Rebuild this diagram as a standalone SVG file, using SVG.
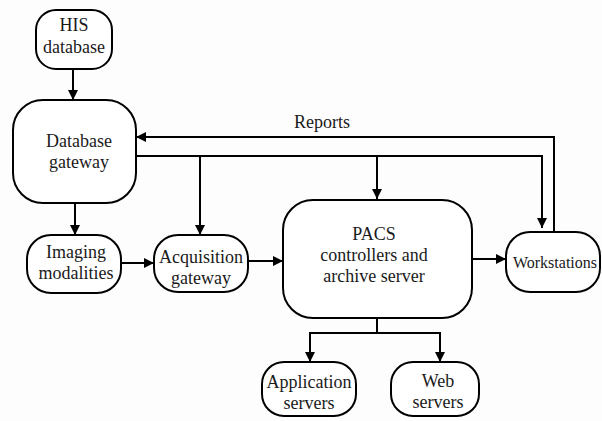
<svg xmlns="http://www.w3.org/2000/svg" width="602" height="421" viewBox="0 0 602 421">
<defs>
<marker id="ah" viewBox="0 0 10 10" refX="10" refY="5" markerWidth="10" markerHeight="10" markerUnits="userSpaceOnUse" orient="auto">
<path d="M0,0 L10,5 L0,10 z" fill="#000"/>
</marker>
<style>
.box{fill:#fff;stroke:#000;stroke-width:2}
text{font-family:'Liberation Serif','DejaVu Serif',serif;font-size:18px;fill:#1a1a1a;text-anchor:middle}
.c{fill:none;stroke:#000;stroke-width:2}
</style>
</defs>
<rect width="602" height="421" fill="#fdfdfd"/>
<g id="connectors">
<path class="c" d="M73,69 V100" marker-end="url(#ah)"/>
<path class="c" d="M554,232 V137 H136" marker-end="url(#ah)"/>
<path class="c" d="M136,156 H542 V228" marker-end="url(#ah)"/>
<path class="c" d="M200,156 V235" marker-end="url(#ah)"/>
<path class="c" d="M377,156 V199" marker-end="url(#ah)"/>
<path class="c" d="M75,203 V235" marker-end="url(#ah)"/>
<path class="c" d="M121,263 H154" marker-end="url(#ah)"/>
<path class="c" d="M248,261 H283" marker-end="url(#ah)"/>
<path class="c" d="M472,259 H506" marker-end="url(#ah)"/>
<path class="c" d="M377,318 V333 H310 V362" marker-end="url(#ah)"/>
<path class="c" d="M377,333 H440 V362" marker-end="url(#ah)"/>
<text x="322" y="128" font-family="Liberation Serif">Reports</text>
</g>
<g id="his">
<rect class="box" x="36" y="10" width="76" height="59" rx="20"/>
<text x="74" y="31">HIS</text>
<text x="74" y="53">database</text>
</g>
<g id="dbgw">
<rect class="box" x="13" y="100" width="123" height="103" rx="30"/>
<text x="79" y="147">Database</text>
<text x="79" y="168">gateway</text>
</g>
<g id="imaging">
<rect class="box" x="27" y="235" width="94" height="58" rx="24"/>
<text x="76" y="258">Imaging</text>
<text x="76" y="279">modalities</text>
</g>
<g id="acq">
<rect class="box" x="154" y="235" width="94" height="57" rx="24"/>
<text x="201" y="263">Acquisition</text>
<text x="201" y="284">gateway</text>
</g>
<g id="pacs">
<rect class="box" x="283" y="200" width="189" height="118" rx="30"/>
<text x="374" y="240">PACS</text>
<text x="374" y="261">controllers and</text>
<text x="374" y="282">archive server</text>
</g>
<g id="ws">
<rect class="box" x="506" y="232" width="94" height="60" rx="24"/>
<text x="555" y="268" style="font-size:16px">Workstations</text>
</g>
<g id="app">
<rect class="box" x="262" y="362" width="94" height="54" rx="22"/>
<text x="309" y="388">Application</text>
<text x="309" y="409">servers</text>
</g>
<g id="web">
<rect class="box" x="391" y="362" width="88" height="54" rx="22"/>
<text x="438" y="387">Web</text>
<text x="438" y="408">servers</text>
</g>
</svg>
